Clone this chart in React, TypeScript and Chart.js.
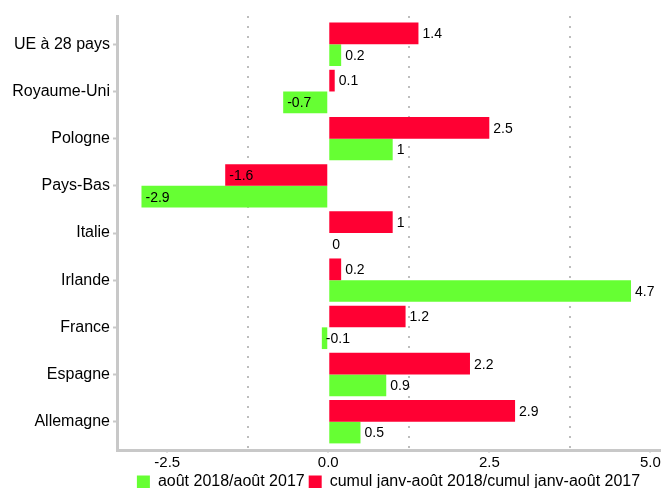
import React, { useEffect, useRef } from "react";
import { Chart, registerables } from "chart.js";

Chart.register(...registerables);

const categories = ["UE à 28 pays", "Royaume-Uni", "Pologne", "Pays-Bas", "Italie", "Irlande", "France", "Espagne", "Allemagne"];
const cumulValues = [1.4, 0.1, 2.5, -1.6, 1, 0.2, 1.2, 2.2, 2.9];
const aoutValues = [0.2, -0.7, 1, -2.9, 0, 4.7, -0.1, 0.9, 0.5];
const xTickValues = [-2.5, -1.25, 0, 1.25, 2.5, 3.75, 5];
const xLabelValues = [-2.5, 0, 2.5, 5];
const seriesNames = ["cumul janv-août 2018/cumul janv-août 2017", "août 2018/août 2017"];

const RED = "#ff0033";
const GREEN = "#66ff33";
const AXIS = "#c8c8c8";
const FONT = "'Liberation Sans', Arial, sans-serif";

const isMajor = (v: number) => xLabelValues.some((m) => Math.abs(m - v) < 1e-6);

const valueLabels = {
  id: "valueLabels",
  afterDatasetsDraw(chart: any) {
    const ctx = chart.ctx;
    ctx.save();
    ctx.font = `14px ${FONT}`;
    ctx.fillStyle = "#000";
    ctx.textAlign = "left";
    ctx.textBaseline = "middle";
    chart.data.datasets.forEach((ds: any, di: number) => {
      const meta = chart.getDatasetMeta(di);
      meta.data.forEach((el: any, i: number) => {
        const v = ds.data[i].x;
        ctx.fillText(String(v), el.x + 4, el.y + 1);
      });
    });
    ctx.restore();
  },
};

export default function App() {
  const ref = useRef<HTMLCanvasElement | null>(null);
  useEffect(() => {
    if (!ref.current) return;
    const chart = new Chart(ref.current, {
      type: "bar",
      data: {
        datasets: [
          {
            label: seriesNames[0],
            data: cumulValues.map((v, i) => ({ x: v, y: i })),
            backgroundColor: RED,
          },
          {
            label: seriesNames[1],
            data: aoutValues.map((v, i) => ({ x: v, y: i })),
            backgroundColor: GREEN,
          },
        ],
      },
      options: {
        indexAxis: "y",
        animation: false,
        responsive: true,
        maintainAspectRatio: false,
        layout: { padding: { top: 16, right: 2, left: 0, bottom: -12 } },
        datasets: { bar: { categoryPercentage: 0.92, barPercentage: 1 } },
        scales: {
          x: {
            type: "linear",
            min: -3.28,
            max: 5.15,
            afterBuildTicks: (s: any) => {
              s.ticks = xTickValues.map((v) => ({ value: v }));
            },
            afterFit: (s: any) => {
              s.height = 20;
            },
            ticks: {
              autoSkip: false,
              maxRotation: 0,
              padding: 1,
              color: "#000",
              font: { family: FONT, size: 15 },
              callback: (v: any) => (isMajor(Number(v)) ? Number(v).toFixed(1) : ""),
            },
            grid: {
              lineWidth: 2,
              color: (c: any) => (c.tick && !isMajor(c.tick.value) ? "#bdbdbd" : "rgba(0,0,0,0)"),
              tickColor: (c: any) => (c.tick && isMajor(c.tick.value) ? AXIS : "rgba(0,0,0,0)"),
              tickLength: 3,
              tickWidth: 1,
            },
            border: { display: true, color: AXIS, width: 3, dash: [2, 8] },
          },
          y: {
            type: "linear",
            reverse: true,
            offset: false,
            min: -0.6,
            max: 8.6,
            afterBuildTicks: (s: any) => {
              s.ticks = categories.map((_, i) => ({ value: i }));
            },
            afterFit: (s: any) => {
              s.width = 117;
            },
            ticks: {
              autoSkip: false,
              padding: 3,
              color: "#000",
              font: { family: FONT, size: 16 },
              callback: (v: any) => categories[Number(v)] ?? "",
            },
            grid: {
              offset: false,
              drawOnChartArea: false,
              tickLength: 4,
              tickColor: AXIS,
              tickWidth: 2,
            },
            border: { display: true, color: AXIS, width: 3 },
          },
        },
        plugins: {
          legend: {
            position: "bottom",
            fullSize: false,
            reverse: true,
            labels: {
              color: "#000",
              font: { family: FONT, size: 16 },
              boxWidth: 13,
              boxHeight: 13,
              padding: 4,
            },
          },
          tooltip: { enabled: false },
        },
      },
      plugins: [valueLabels],
    } as any);
    return () => chart.destroy();
  }, []);
  return (
    <div style={{ position: "absolute", left: 0, top: 0, width: 662, height: 488 }}>
      <canvas ref={ref} />
    </div>
  );
}
